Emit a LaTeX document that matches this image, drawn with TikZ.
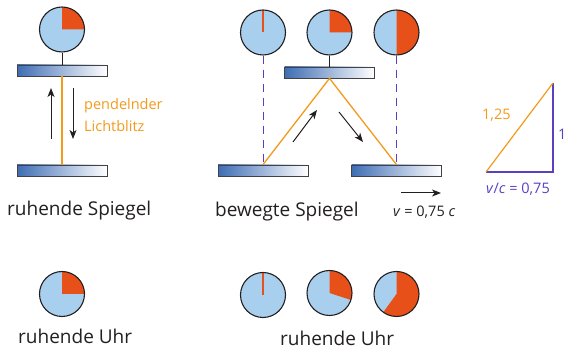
\documentclass[tikz,border=0pt]{standalone}
\usepackage{fontspec}
\setmainfont{Open Sans}
\usetikzlibrary{arrows.meta}
\definecolor{clockblue}{HTML}{A8D0EE}
\definecolor{handred}{HTML}{E8501A}
\definecolor{lightorange}{HTML}{F39A1B}
\definecolor{vpurple}{HTML}{5B3FC0}
\definecolor{mirrorblue}{HTML}{3F6DB3}
\definecolor{txt}{HTML}{231F20}
\tikzset{
  clockface/.style={circle, draw=txt, fill=clockblue, minimum size=45pt, inner sep=0pt, line width=1.1pt,
    path picture={\fill[handred] (path picture bounding box.center) -- ++(90:24pt) arc[start angle=90, delta angle=-#1, radius=24pt] -- cycle;}},
  clockzero/.style={circle, draw=txt, fill=clockblue, minimum size=45pt, inner sep=0pt, line width=1.1pt,
    path picture={\draw[handred, line width=1.3pt] (path picture bounding box.center) -- ++(90:24pt);}},
  mirror/.style={rectangle, draw=txt!85, line width=0.8pt, left color=mirrorblue, right color=white, minimum width=90pt, minimum height=11pt, inner sep=0pt},
  stem/.style={draw=txt, line width=1pt},
  light/.style={draw=lightorange, line width=1.3pt},
  dashv/.style={draw=vpurple, line width=1pt, dash pattern=on 8pt off 6pt},
  motion/.style={draw=txt, line width=1pt, -{Stealth[length=9pt,width=7pt,inset=2.5pt]}},
  lbl/.style={anchor=base west, inner sep=0pt, text=txt, font=\fontsize{19}{21}\selectfont},
  small/.style={anchor=base west, inner sep=0pt, font=\fontsize{14.5}{16}\selectfont},
}
\begin{document}
\begin{tikzpicture}[x=1pt,y=-1pt]
\useasboundingbox (0,0) rectangle (568,352);
% left: resting mirrors
\node[clockface=90] (cl) at (62,29.5) {};
\node[mirror] (lt) at (62,70.5) {};
\node[mirror] (lb) at (62,170.5) {};
\draw[stem] (cl.south) -- (lt.north);
\draw[light] (lt.south) -- (lb.north);
\coordinate (ua1) at (51,139); \coordinate (ua2) at (51,88);
\coordinate (da1) at (73,88); \coordinate (da2) at (73,139);
\draw[motion] (ua1) -- (ua2);
\draw[motion] (da1) -- (da2);
\node[small, text=lightorange] (pl) at (84,110) {pendelnder};
\node[small, text=lightorange] (ll) at (84,132) {Lichtblitz};
\node[lbl] (rs) at (7,216) {ruhende Spiegel};
% moving mirrors
\node[clockzero] (c1) at (263,32.5) {};
\node[clockface=90] (c2) at (329.5,32.5) {};
\node[clockface=180] (c3) at (396.5,32.5) {};
\node[mirror] (mt) at (329.5,72.5) {};
\node[mirror] (mbl) at (263,170.5) {};
\node[mirror] (mbr) at (396.5,170.5) {};
\draw[stem] (c2.south) -- (mt.north);
\draw[dashv] (c1.south) -- (mbl.north);
\draw[dashv] (c3.south) -- (mbr.north);
\draw[light, line join=miter] (mbl.north) -- (mt.south) -- (mbr.north);
\coordinate (ma1) at (293,142); \coordinate (ma2) at (317,110);
\coordinate (mb1) at (339,112); \coordinate (mb2) at (363,142);
\draw[motion] (ma1) -- (ma2);
\draw[motion] (mb1) -- (mb2);
\coordinate (va1) at (401,193); \coordinate (va2) at (441,193);
\draw[motion] (va1) -- (va2);
\node[small, text=txt] (vl) at (393,217) {\textit{v} = 0,75 \textit{c}};
\node[lbl] (bs) at (215,217) {bewegte Spiegel};
% triangle
\coordinate (t1) at (486,172); \coordinate (t2) at (553,172); \coordinate (t3) at (553,83);
\draw[draw=vpurple, line width=1.2pt, line join=miter] (t1) -- (t2) -- (t3);
\draw[light, line width=1.2pt] (t1) -- (t3);
\node[small, text=lightorange] (h) at (482,120) {1,25};
\node[small, text=vpurple] (vc) at (486,194) {\textit{v}/\textit{c} = 0,75};
\node[small, text=vpurple] (one) at (558,140) {1};
% bottom clocks
\node[clockface=90] (bl) at (62,294) {};
\node[lbl] (ru1) at (18,344) {ruhende Uhr};
\node[clockzero] (b1) at (263,295) {};
\node[clockface=108] (b2) at (329.5,293) {};
\node[clockface=216] (b3) at (396.5,294) {};
\node[lbl] (ru2) at (280,346) {ruhende Uhr};
\end{tikzpicture}
\end{document}
